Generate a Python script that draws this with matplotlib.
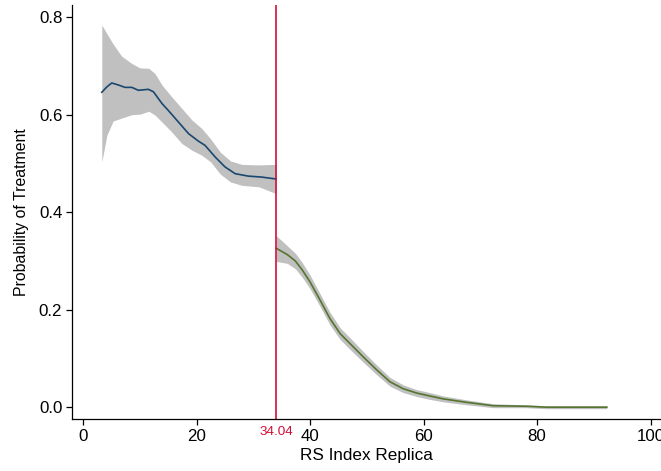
import numpy as np
import matplotlib
matplotlib.use("Agg")
import matplotlib.pyplot as plt

plt.rcParams['font.family'] = ['Liberation Sans', 'DejaVu Sans']

cutoff = 34.04

# left of the cutoff: fitted line
x_left = [3.3, 4.2, 5.05, 6.2, 7.4, 8.6, 9.75, 11.5, 12.4, 13.9, 15.0, 16.8, 18.6, 20.3, 21.5,
          23.3, 25.0, 26.8, 29.1, 31.5, 34.04]
y_left = [0.646, 0.657, 0.665, 0.661, 0.656, 0.656, 0.650, 0.652, 0.647, 0.623, 0.609, 0.585, 0.561,
          0.546, 0.537, 0.513, 0.493, 0.479, 0.474, 0.472, 0.468]
# left of the cutoff: confidence band
xb_left = [3.3, 4.2, 5.3, 6.8, 8.6, 10.0, 11.6, 12.7, 13.9, 15.6, 17.4, 19.2, 20.9, 22.5, 24.2,
           26.0, 28.0, 31.0, 34.04]
hi_left = [0.784, 0.766, 0.745, 0.720, 0.705, 0.696, 0.695, 0.684, 0.661, 0.637, 0.613, 0.589, 0.572,
           0.550, 0.523, 0.505, 0.498, 0.497, 0.498]
lo_left = [0.503, 0.558, 0.587, 0.593, 0.600, 0.601, 0.607, 0.599, 0.585, 0.565, 0.541, 0.527, 0.517,
           0.503, 0.478, 0.462, 0.455, 0.452, 0.438]

# right of the cutoff
x_right = [34.04, 36.0, 37.4, 38.6, 40.0, 41.8, 43.5, 45.3, 47.0, 49.4, 51.8, 54.1, 56.4, 58.8, 61.1,
           63.5, 67.6, 72.3, 78.0, 81.7, 86.0, 92.3]
y_right = [0.326, 0.313, 0.300, 0.282, 0.257, 0.219, 0.182, 0.151, 0.131, 0.103, 0.076, 0.052, 0.038,
           0.029, 0.023, 0.017, 0.010, 0.003, 0.002, 0.000, 0.000, 0.000]
hi_right = [0.352, 0.331, 0.316, 0.297, 0.271, 0.232, 0.195, 0.163, 0.143, 0.114, 0.086, 0.061, 0.046,
            0.036, 0.030, 0.023, 0.015, 0.007, 0.005, 0.003, 0.003, 0.003]
lo_right = [0.299, 0.295, 0.284, 0.267, 0.243, 0.206, 0.169, 0.139, 0.119, 0.092, 0.066, 0.043, 0.030,
            0.022, 0.016, 0.011, 0.005, -0.001, -0.001, -0.003, -0.003, -0.003]

band = '#c0c0c0'
navy = '#1a476f'
green = '#55752f'
red = '#d0103a'

fig = plt.figure(figsize=(6.61, 4.71), dpi=100)
ax = fig.add_axes([0.109, 0.110, 0.891, 0.879])

ax.fill_between(xb_left, lo_left, hi_left, color=band, lw=0)
ax.plot(x_left, y_left, color=navy, lw=1.2)
ax.fill_between(x_right, lo_right, hi_right, color=band, lw=0)
ax.plot(x_right, y_right, color=green, lw=1.2)
ax.axvline(cutoff, color=red, lw=1.2)

ax.set_xlim(-1.94, 101.85)
ax.set_ylim(-0.0246, 0.8246)
ax.set_xticks([0, 20, 40, 60, 80, 100])
ax.set_yticks([0.0, 0.2, 0.4, 0.6, 0.8])
ax.set_yticklabels(['0.0', '0.2', '0.4', '0.6', '0.8'])
ax.tick_params(axis='both', labelsize=12.2, length=4.5, width=0.9, direction='out', pad=2.5)

ax.annotate(f'{cutoff:.2f}', xy=(cutoff, 0), xycoords=('data', 'axes fraction'),
            xytext=(0, -5), textcoords='offset points', ha='center', va='top',
            color=red, fontsize=9.7)

for s in ['top', 'right']:
    ax.spines[s].set_visible(False)
for s in ['left', 'bottom']:
    ax.spines[s].set_linewidth(0.9)

ax.set_xlabel('RS Index Replica', fontsize=12.3, labelpad=3)
ax.set_ylabel('Probability of Treatment', fontsize=11.4, labelpad=7)

fig.savefig('out.png', dpi=100)
